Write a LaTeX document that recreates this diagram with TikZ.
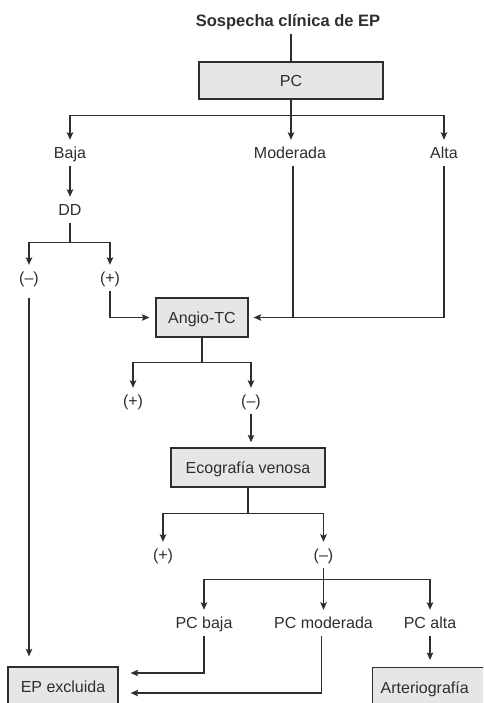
\documentclass[tikz,border=0pt]{standalone}
\usepackage{fontspec}
\setmainfont{Liberation Sans}
\usetikzlibrary{arrows.meta}
\definecolor{ink}{HTML}{2E2E2E}
\definecolor{boxfill}{HTML}{E6E6E6}
\begin{document}
\begin{tikzpicture}[x=1pt,y=-1pt,
  every node/.style={font=\fontsize{16}{19}\selectfont, text=ink},
  box/.style={draw=ink, fill=boxfill, line width=1.3pt, inner sep=0pt,
    text height=11.5pt, text depth=0pt},
  lbl/.style={inner sep=0pt, minimum height=26pt, text height=11.5pt, text depth=0pt},
  link/.style={draw=ink, line width=1.3pt},
  arr/.style={link, -{Stealth[length=7.5pt,width=6.5pt,inset=1.5pt]}}]
\useasboundingbox (0,0) rectangle (483,703);
\clip (0,0) rectangle (483,703);

% nodes
\node[lbl, font=\bfseries\fontsize{16.5}{19}\selectfont] (title) at (288,21) {Sospecha clínica de EP};
\node[box, minimum width=184pt, minimum height=37pt] (pc) at (291,80.5) {PC};
\node[lbl] (baja) at (70,153) {Baja};
\node[lbl] (mod) at (290,153) {Moderada};
\node[lbl] (alta) at (444,153) {Alta};
\node[lbl] (dd) at (70,210) {DD};
\node[lbl] (dneg) at (29,278) {(–)};
\node[lbl] (dpos) at (110,278) {(+)};
\node[box, minimum width=92pt, minimum height=39pt] (angio) at (202,317.5) {Angio-TC};
\node[lbl] (apos) at (133,401) {(+)};
\node[lbl] (aneg) at (251,401) {(–)};
\node[box, minimum width=154pt, minimum height=39pt] (eco) at (248,467.5) {Ecografía venosa};
\node[lbl] (epos) at (163,555) {(+)};
\node[lbl] (eneg) at (323.5,555) {(–)};
\node[lbl] (pcb) at (204,623) {PC baja};
\node[lbl] (pcm) at (323.5,623) {PC moderada};
\node[lbl] (pca) at (430,623) {PC alta};
\node[box, minimum width=110pt, minimum height=40pt] (excl) at (63,687) {EP excluida};
\node[box, anchor=north west, minimum height=40pt, text width=102pt, inner xsep=8pt,
  align=left] (arterio) at (372,667) {Arteriografía};

% clinical probability branches
\draw[link] (pc.north) -- (pc.north |- title.south);
\draw[link] (pc.south) -- ++(0,16) coordinate (pcfork);
\draw[arr] (pcfork) -| (baja.north);
\draw[arr] (pcfork) -| (alta.north);
\draw[arr] (pcfork) -- (pcfork |- mod.north);

% low probability: D-dimer
\draw[arr] (baja) -- (dd);
\draw[link] (dd.south) -- ++(0,19) coordinate (ddfork);
\draw[arr] (ddfork) -| (dneg.north);
\draw[arr] (ddfork) -| (dpos.north);
\draw[arr, shorten >=6pt] (dpos.south) |- (angio.west);
\draw[arr, shorten <=7pt, shorten >=10pt] (dneg.south) -- (dneg.south |- excl.north);

% moderate / high probability to CT angiography
\draw[arr, shorten >=5pt] (alta.south) |- (angio.east);
\draw[link] ([xshift=3pt]mod.south) -- ([xshift=3pt]mod.south |- angio.east);

% CT angiography results
\draw[link] (angio.south) -- ++(0,25) coordinate (afork);
\draw[arr] (afork) -| (apos.north);
\draw[arr] (afork) -| (aneg.north);
\draw[arr, shorten >=5pt] (aneg.south) -- (aneg.south |- eco.north);

% venous ultrasound results
\draw[link] (eco.south) -- ++(0,26) coordinate (efork);
\draw[arr] (efork) -| (epos.north);
\draw[arr] (efork) -| (eneg.north);

% re-assessment of clinical probability
\path (eneg.south) ++(0,11) coordinate (nfork);
\draw[arr] (eneg.south) -- (eneg.south |- pcm.north);
\draw[arr] (nfork) -| (pcb.north);
\draw[arr] (nfork) -| (pca.north);
\path (excl.east) ++(12,-14) coordinate (exa);
\path (excl.east) ++(12,6) coordinate (exb);
\draw[arr] (pcb.south) |- (exa);
\draw[arr] ([xshift=-2pt]pcm.south) |- (exb);
\draw[arr, shorten >=7pt] (pca.south) -- (pca.south |- arterio.north);
\end{tikzpicture}
\end{document}
